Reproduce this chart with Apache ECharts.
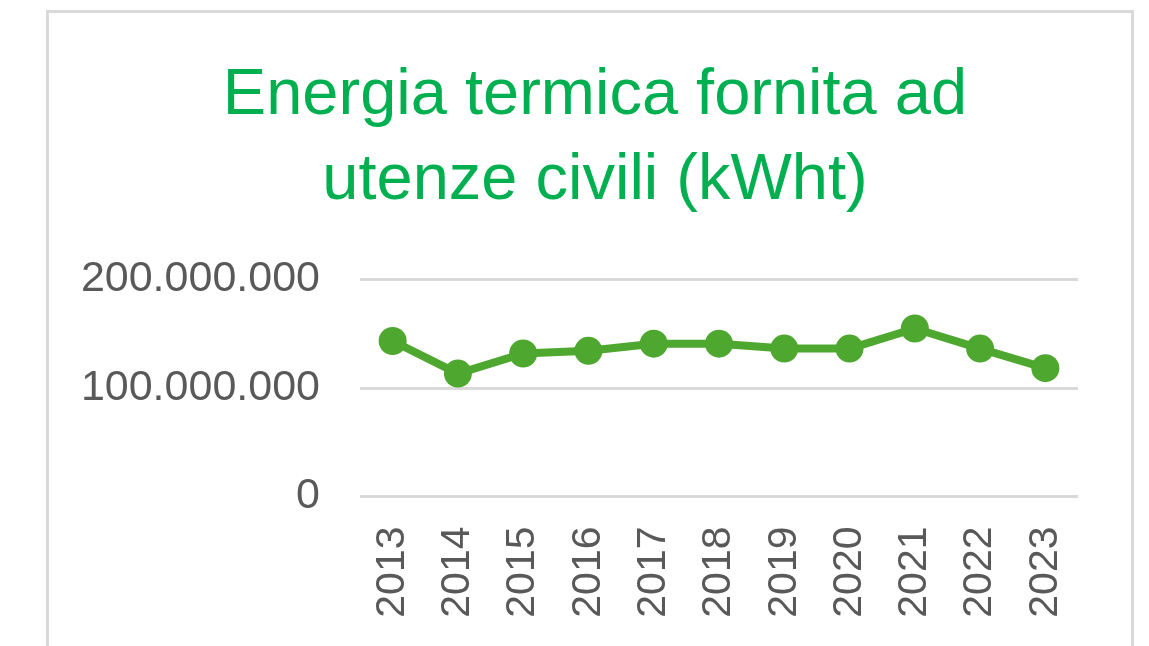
<!DOCTYPE html>
<html>
<head>
<meta charset="utf-8">
<title>Energia termica fornita ad utenze civili</title>
<script src="https://cdn.jsdelivr.net/npm/echarts@6/dist/echarts.min.js"></script>
<style>
	html, body { margin: 0; padding: 0; background: #fff; }
	#chart { width: 1149px; height: 646px; }
</style>
</head>
<body>
<div id="chart"></div>
<script>
// anni e valori (kWht)
const years = ['2013', '2014', '2015', '2016', '2017', '2018', '2019', '2020', '2021', '2022', '2023'];
const energy = [143000000, 113000000, 131500000, 134000000, 140500000, 140500000, 136000000, 136000000, 154500000, 136000000, 118000000];
const yTicks = [0, 100000000, 200000000];

const green = '#4EA72E';
const labelFont = '"Liberation Sans", Arial, sans-serif';

// 100000000 -> 100.000.000
function fmt(v) {
	return String(v).replace(/\B(?=(\d{3})+(?!\d))/g, '.');
}

const chart = echarts.init(document.getElementById('chart'));
chart.setOption({
	backgroundColor: '#fff',
	animation: false,
	graphic: [{
		type: 'rect',
		shape: { x: 47.5, y: 11.5, width: 1085, height: 700 },
		style: { fill: null, stroke: '#d9d9d9', lineWidth: 3 },
		silent: true
	}],
	title: {
		text: 'Energia termica fornita ad\nutenze civili (kWht)',
		left: 590,
		textAlign: 'center',
		top: 49,
		textStyle: {
			color: '#00B050',
			fontFamily: labelFont,
			fontWeight: 'normal',
			fontSize: 65,
			lineHeight: 85
		}
	},
	grid: { left: 360, right: 71, top: 279, bottom: 149.5, containLabel: false },
	xAxis: {
		type: 'category',
		data: years,
		boundaryGap: true,
		axisLine: { show: false },
		axisTick: { show: false },
		axisLabel: {
			rotate: 90,
			margin: 30,
			color: '#595959',
			fontFamily: labelFont,
			fontSize: 41
		}
	},
	yAxis: {
		type: 'value',
		min: yTicks[0],
		max: yTicks[yTicks.length - 1],
		interval: yTicks[1] - yTicks[0],
		axisLine: { show: false },
		axisTick: { show: false },
		splitLine: { lineStyle: { color: '#d9d9d9', width: 3 } },
		axisLabel: {
			margin: 40,
			color: '#595959',
			fontFamily: labelFont,
			fontSize: 43,
			formatter: fmt
		}
	},
	series: [{
		type: 'line',
		data: energy,
		symbol: 'circle',
		symbolSize: 28,
		lineStyle: { color: green, width: 8 },
		itemStyle: { color: green }
	}]
});
</script>
</body>
</html>
